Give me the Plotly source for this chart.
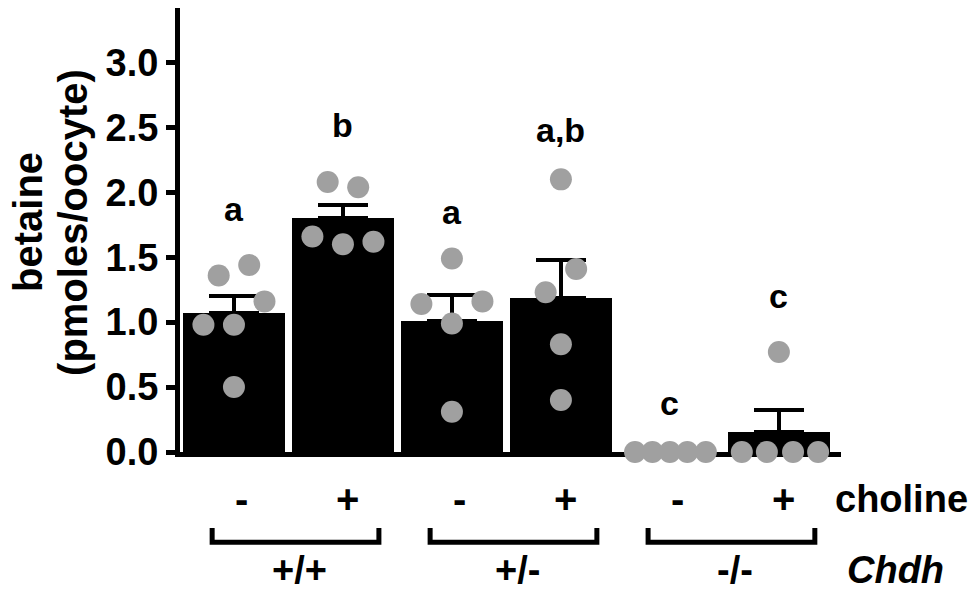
import plotly.graph_objects as go

# ---- data ----
conditions = ["-", "+", "-", "+", "-", "+"]          # choline
genotypes = ["+/+", "+/-", "-/-"]                     # Chdh
bar_means = [1.07, 1.80, 1.01, 1.19, 0.0, 0.155]
bar_sem = [0.13, 0.10, 0.20, 0.29, 0.0, 0.165]
sig_letters = ["a", "b", "a", "a,b", "c", "c"]
letter_y = [1.87, 2.52, 1.85, 2.48, 0.38, 1.20]

pts_g1 = [1.36, 1.44, 1.16, 0.98, 0.98, 0.50]
pts_g2 = [1.66, 1.60, 1.62, 2.08, 2.04]
pts_g3 = [1.49, 1.14, 1.16, 0.99, 0.31]
pts_g4 = [2.10, 1.41, 1.23, 0.83, 0.40]
pts_g5 = [0.0, 0.0, 0.0, 0.0, 0.0]
pts_g6 = [0.0, 0.0, 0.0, 0.0, 0.77]
points = [pts_g1, pts_g2, pts_g3, pts_g4, pts_g5, pts_g6]

# horizontal scatter of the dots within each bar (category units)
jit_g1 = [-0.14, 0.14, 0.28, -0.28, 0.0, 0.0]
jit_g2 = [-0.28, 0.0, 0.28, -0.14, 0.14]
jit_g3 = [0.0, -0.28, 0.28, 0.0, 0.0]
jit_g4 = [0.0, 0.14, -0.14, 0.0, 0.0]
jit_g5 = [-0.32, -0.16, 0.0, 0.16, 0.33]
jit_g6 = [-0.34, -0.11, 0.13, 0.36, 0.0]
jitter = [jit_g1, jit_g2, jit_g3, jit_g4, jit_g5, jit_g6]

FONT = "Liberation Sans"
xpos = list(range(len(bar_means)))


def f(size, italic=False):
    return dict(family=FONT, size=size, color="black", weight="bold",
                style="italic" if italic else "normal")


fig = go.Figure()
fig.add_trace(go.Bar(
    x=xpos, y=bar_means, width=0.935,
    marker=dict(color="black", line=dict(width=0)),
    error_y=dict(type="data", symmetric=False, array=bar_sem,
                 arrayminus=[0] * len(bar_sem), color="black",
                 thickness=4, width=25),
    showlegend=False,
))

px_, py_ = [], []
for i, (vals, offs) in enumerate(zip(points, jitter)):
    for v, o in zip(vals, offs):
        px_.append(i + o)
        py_.append(v)
fig.add_trace(go.Scatter(
    x=px_, y=py_, mode="markers",
    marker=dict(size=22, color="#a0a0a0", line=dict(width=0)),
    cliponaxis=False, showlegend=False,
))

ann = []
for i, (t, yv) in enumerate(zip(sig_letters, letter_y)):
    ann.append(dict(x=i, y=yv, xref="x", yref="y", text=t, showarrow=False,
                    xanchor="center", yanchor="middle", font=f(34)))
for i, c in enumerate(conditions):
    ann.append(dict(x=i + (0.07 if c == "-" else 0.04), y=-0.106, xref="x", yref="paper",
                    text=c, showarrow=False, xanchor="center", yanchor="middle",
                    font=f(40)))
shapes = []
for g, lab in enumerate(genotypes):
    x0 = 2 * g - 0.2
    x1 = 2 * g + 1.33
    shapes.append(dict(type="path", xref="x", yref="paper",
                       path=f"M {x0},-0.171 L {x0},-0.203 L {x1},-0.203 L {x1},-0.171",
                       line=dict(color="black", width=5)))
    ann.append(dict(x=2 * g + 0.6, y=-0.318, xref="x", yref="paper", text=lab,
                    showarrow=False, xanchor="center", yanchor="bottom", font=f(38)))
ann.append(dict(x=1.092, y=-0.106, xref="paper", yref="paper", text="choline",
                showarrow=False, xanchor="center", yanchor="middle", font=f(38)))
ann.append(dict(x=1.082, y=-0.318, xref="paper", yref="paper", text="Chdh",
                showarrow=False, xanchor="center", yanchor="bottom", font=f(38, True)))
ann.append(dict(x=-0.230, y=0.518, xref="paper", yref="paper",
                text="betaine", textangle=-90, showarrow=False,
                xanchor="center", yanchor="middle", font=f(40)))
ann.append(dict(x=-0.162, y=0.518, xref="paper", yref="paper",
                text="(pmoles/oocyte)", textangle=-90, showarrow=False,
                xanchor="center", yanchor="middle", font=f(40)))

fig.update_layout(
    width=974, height=594,
    margin=dict(l=180, r=133, t=8, b=142),
    plot_bgcolor="white", paper_bgcolor="white",
    bargap=0,
    annotations=ann, shapes=shapes,
    xaxis=dict(range=[-0.495, 5.57], showline=True, linewidth=5, linecolor="black",
               showticklabels=False, ticks="", showgrid=False, zeroline=False,
               layer="below traces"),
    yaxis=dict(range=[0, 3.42], showline=True, linewidth=5, linecolor="black",
               tickvals=[0, 0.5, 1.0, 1.5, 2.0, 2.5, 3.0],
               ticktext=["0.0", "0.5", "1.0", "1.5", "2.0", "2.5", "3.0"],
               ticks="outside", ticklen=9, tickwidth=5, tickcolor="black",
               tickfont=f(38),
               showgrid=False, zeroline=False, layer="below traces"),
)

fig.write_html(
    "out.html",
    config={"displayModeBar": False},
    post_script="document.body.style.margin='0';document.body.style.overflow='hidden';",
)
